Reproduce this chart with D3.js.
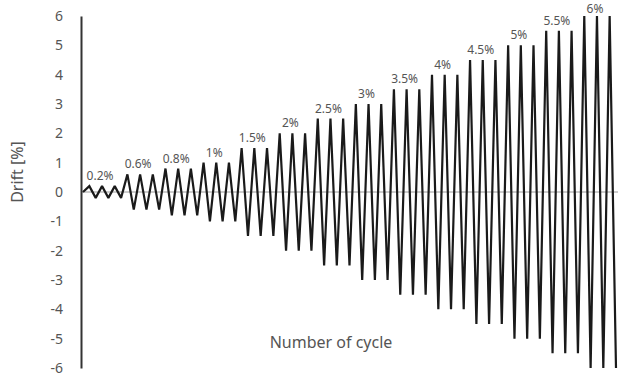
<!DOCTYPE html>
<html>
<head>
<meta charset="utf-8">
<script src="https://cdn.jsdelivr.net/npm/d3@7"></script>
<style>
  body { margin: 0; background: #fff; }
  svg text { font-family: "Noto Sans", Roboto, sans-serif; fill: #555; }
</style>
</head>
<body>
<div id="chart"></div>
<script>
// drift amplitude of each loading step (3 cycles per step)
var amplitudes = [0.2, 0.6, 0.8, 1, 1.5, 2, 2.5, 3, 3.5, 4, 4.5, 5, 5.5, 6];
var stepLabels = ["0.2%", "0.6%", "0.8%", "1%", "1.5%", "2%", "2.5%", "3%", "3.5%", "4%", "4.5%", "5%", "5.5%", "6%"];
var cyclesPerStep = 3;
var yTicks = [-6, -5, -4, -3, -2, -1, 0, 1, 2, 3, 4, 5, 6];

var width = 618, height = 379;
var margin = {top: 16, right: 2, bottom: 11, left: 83};

var svg = d3.select("#chart")
  .append("svg")
    .attr("width", width)
    .attr("height", height);

// build the drift history: start at 0, then +a / -a for each cycle
var driftData = [{t: 0, v: 0}];
amplitudes.forEach(function(a) {
  for (var c = 0; c < cyclesPerStep; c++) {
    driftData.push({t: driftData.length, v: a});
    driftData.push({t: driftData.length, v: -a});
  }
});

var x = d3.scaleLinear()
  .domain([0, driftData.length - 1])
  .range([margin.left, 616]);

var y = d3.scaleLinear()
  .domain([-6, 6])
  .range([height - margin.bottom, margin.top]);

// zero line
svg.append("line")
  .attr("x1", 81).attr("x2", width)
  .attr("y1", y(0)).attr("y2", y(0))
  .attr("stroke", "#9a9a9a")
  .attr("stroke-width", 1);

// Y axis
var yAxis = svg.append("g")
  .attr("transform", "translate(81,0)")
  .call(d3.axisLeft(y).tickValues(yTicks).tickSize(0).tickPadding(18)
    .tickFormat(function(d) { return d; }));
yAxis.select(".domain")
  .attr("stroke", "#333")
  .attr("stroke-width", 2);
yAxis.selectAll("text")
  .style("font-size", "14px")
  .attr("fill", "#555");

// drift line (sharp peaks, no long miter spikes)
svg.append("path")
  .datum(driftData)
  .attr("fill", "none")
  .attr("stroke", "#1a1a1a")
  .attr("stroke-width", 2.2)
  .attr("stroke-linejoin", "miter")
  .attr("stroke-miterlimit", 2)
  .attr("d", d3.line()
    .x(function(d) { return x(d.t); })
    .y(function(d) { return y(d.v); }));

// step labels above the middle peak of each step
svg.selectAll(".step")
  .data(amplitudes)
  .enter().append("text")
    .attr("class", "step")
    .attr("x", function(d, i) { return x(1 + i * cyclesPerStep * 2 + 2) - 2; })
    .attr("y", function(d) { return Math.max(y(d) - 6, 13); })
    .attr("text-anchor", "middle")
    .style("font-size", "12px")
    .text(function(d, i) { return stepLabels[i]; });

// axis titles
svg.append("text")
  .attr("x", 331)
  .attr("y", 348)
  .attr("text-anchor", "middle")
  .style("font-size", "16px")
  .text("Number of cycle");

svg.append("text")
  .attr("transform", "translate(23,172) rotate(-90)")
  .attr("text-anchor", "middle")
  .style("font-size", "16px")
  .text("Drift [%]");
</script>
</body>
</html>
